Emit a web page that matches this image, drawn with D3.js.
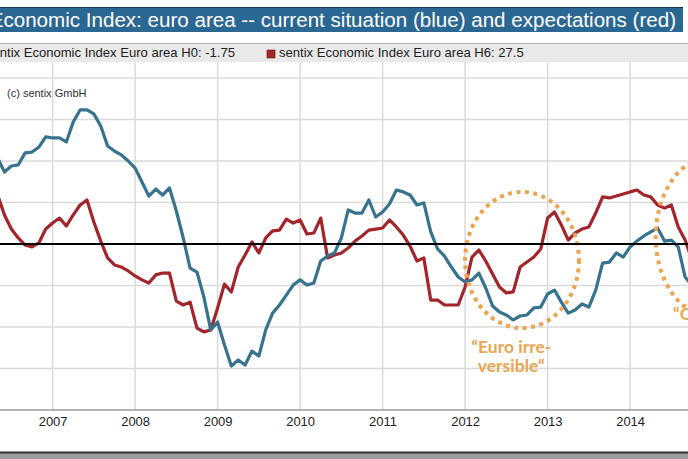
<!DOCTYPE html>
<html><head><meta charset="utf-8">
<script src="https://cdn.jsdelivr.net/npm/d3@7"></script>
<style>html,body{margin:0;padding:0;background:#fff;overflow:hidden}</style>
</head><body>
<script>
// ---- data (monthly, starting May 2006) ----
const startYear = 2006, startMonth = 5;
const currentSituation = [
  41.4,34.7,37.6,38.1,43.9,44.3,46.7,51.6,
  51.1,51.1,49.2,58.8,64.6,64.6,62.7,56.9,47.2,44.8,42.9,40.0,
  36.6,29.9,23.1,26.5,23.6,27.0,15.9,2.9,-11.6,-13.5,-25.5,-41.4,
  -37.6,-48.7,-58.8,-55.9,-58.3,-51.6,-54.0,-41.4,-33.3,-29.4,-24.6,-19.8,
  -17.3,-19.8,-18.8,-8.2,-5.8,-4.3,2.9,16.4,14.9,14.9,21.2,13.0,
  15.4,19.3,26.0,25.1,23.6,18.8,19.8,5.8,-2.4,-5.8,-11.1,-15.9,
  -18.3,-17.3,-14.0,-21.2,-29.9,-32.8,-34.2,-36.6,-34.7,-34.2,-30.8,-30.4,
  -24.1,-22.2,-28.0,-33.3,-31.8,-28.9,-30.4,-22.2,-9.2,-8.7,-4.3,-6.3,
  -1.4,1.4,3.9,5.8,7.7,1.4,1.9,-1.4,-15.9,-19.8
];
const expectations = [
  23.6,14.0,7.2,2.9,-0.5,-1.4,0.5,7.2,
  10.1,12.5,8.7,14.0,18.8,21.2,10.6,1.4,-6.7,-10.1,-11.1,-13.0,
  -15.4,-17.3,-18.8,-14.9,-14.0,-14.0,-27.5,-29.4,-28.0,-40.5,-42.4,-41.4,
  -30.8,-19.3,-23.1,-11.1,-5.3,1.0,-4.3,2.9,6.3,6.7,12.0,10.1,
  11.6,4.8,5.3,12.5,-6.7,-5.3,-4.3,-1.9,1.4,3.9,6.7,7.2,
  7.7,11.6,8.2,4.3,-1.0,-8.2,-6.7,-27.0,-27.0,-29.4,-29.4,-29.4,
  -20.7,-6.3,-2.9,-8.2,-14.5,-20.7,-23.6,-23.1,-11.1,-8.7,-6.3,-2.4,
  12.5,15.4,9.2,1.9,5.3,7.2,8.2,14.9,22.7,22.2,23.1,24.1,
  25.1,26.0,23.6,22.7,18.8,17.3,18.8,8.2,1.9,-7.7
];
const yearTicks = [2007,2008,2009,2010,2011,2012,2013,2014];
const gridValues = [-60,-40,-20,20,40,60,80];
const titleText = "Economic Index: euro area -- current situation (blue) and expectations (red)";
const legendLabels = ["sentix Economic Index Euro area H0: -1.75", "sentix Economic Index Euro area H6: 27.5"];
const copyrightText = "(c) sentix  GmbH";
const annotationEllipses = [
  {year: 2012.69, value: -7.7, rYears: 0.69, rValue: 32.8},
  {year: 2014.99, value: 3.5, rYears: 0.68, rValue: 38.5}
];
const annotationTexts = [
  {year: 2012.56, value: -52.5, lines: ["\u201CEuro irre-", "versible\u201C"], anchor: "middle"},
  {year: 2014.52, value: -36.6, lines: ["\u201C\u00D6"], anchor: "start"}
];

// ---- layout ----
const W = 688, H = 459;
const plotTop = 62, plotBottom = 410;
const x = d3.scaleLinear().domain([2007, 2014]).range([52.6, 630.1]);
const y = d3.scaleLinear().domain([-80, 80]).range([410, 78]);
const blue = "#37738f", red = "#a3252b", orange = "#eba551";

const svg = d3.select("body").append("svg").attr("width", W).attr("height", H)
  .style("font-family", "'Liberation Sans', Arial, sans-serif");

svg.append("defs").append("clipPath").attr("id", "plotclip")
  .append("rect").attr("x", 0).attr("y", plotTop).attr("width", W).attr("height", plotBottom - plotTop);

// title bar
svg.append("rect").attr("x", 0).attr("y", 7).attr("width", 683).attr("height", 25).attr("fill", "#2b6793");
svg.append("line").attr("x1", 0).attr("x2", 683).attr("y1", 7.5).attr("y2", 7.5).attr("stroke", "#163b58").attr("stroke-width", 1);
const title = svg.append("text").attr("x", 676).attr("y", 27).attr("text-anchor", "end")
  .attr("fill", "#fff").style("font-size", "19px").text(titleText);
{
  const n = title.node();
  const sub = n.getComputedTextLength() - n.getSubStringLength(0, 1);
  title.style("font-size", (19 * 673 / sub) + "px");
}

// legend bar
svg.append("rect").attr("x", 0).attr("y", 43).attr("width", W).attr("height", 19).attr("fill", "#e9e9e9");
svg.append("line").attr("x1", 0).attr("x2", W).attr("y1", 43.5).attr("y2", 43.5).attr("stroke", "#b5b5b5");
const leg2 = svg.append("text").attr("x", 279).attr("y", 57).attr("fill", "#222").style("font-size", "12px").text(legendLabels[1]);
let legSize = 12 * 245 / leg2.node().getComputedTextLength();
leg2.style("font-size", legSize + "px");
svg.append("text").attr("x", 235).attr("y", 57).attr("text-anchor", "end").attr("fill", "#222")
  .style("font-size", legSize + "px").text(legendLabels[0]);
svg.append("rect").attr("x", 267).attr("y", 50).attr("width", 8).attr("height", 8).attr("fill", red).attr("stroke", "#6a1014").attr("stroke-width", 0.6);

// grid
const grid = svg.append("g");
grid.selectAll("line.v").data(yearTicks).join("line")
  .attr("x1", d => x(d)).attr("x2", d => x(d)).attr("y1", plotTop).attr("y2", plotBottom)
  .attr("stroke", "#dadada").attr("stroke-width", 1.5);
grid.selectAll("line.h").data(gridValues).join("line")
  .attr("x1", 0).attr("x2", W).attr("y1", d => y(d)).attr("y2", d => y(d))
  .attr("stroke", "#dadada").attr("stroke-width", 1.5);

// x axis
const xAxis = svg.append("g").attr("transform", `translate(0,${plotBottom})`)
  .call(d3.axisBottom(x).tickValues(yearTicks).tickFormat(d3.format("d")).tickSize(0).tickPadding(7));
xAxis.select(".domain").remove();
xAxis.selectAll("text").attr("fill", "#222").style("font-size", "13px")
  .style("font-family", "'Liberation Sans Narrow', 'Arial Narrow', 'Liberation Sans', Arial, sans-serif");
svg.append("line").attr("x1", 0).attr("x2", W).attr("y1", plotBottom).attr("y2", plotBottom)
  .attr("stroke", "#9a9a9a").attr("stroke-width", 1.5);

// copyright
svg.append("text").attr("x", 7).attr("y", 97).attr("fill", "#333").style("font-size", "11px").text(copyrightText);

// lines
const toYear = i => startYear + (startMonth - 1 + i) / 12;
const lineGen = d3.line().x((d, i) => x(toYear(i))).y(d => y(d));
const plot = svg.append("g").attr("clip-path", "url(#plotclip)");
plot.append("path").datum(expectations).attr("d", lineGen).attr("fill", "none")
  .attr("stroke", red).attr("stroke-width", 3.2).attr("stroke-linejoin", "round");
plot.append("path").datum(currentSituation).attr("d", lineGen).attr("fill", "none")
  .attr("stroke", blue).attr("stroke-width", 3.2).attr("stroke-linejoin", "round");

// zero line
svg.append("line").attr("x1", 0).attr("x2", W).attr("y1", y(0)).attr("y2", y(0))
  .attr("stroke", "#000").attr("stroke-width", 2);

// annotations
plot.selectAll("ellipse").data(annotationEllipses).join("ellipse")
  .attr("cx", d => x(d.year)).attr("cy", d => y(d.value))
  .attr("rx", d => x(d.year + d.rYears) - x(d.year)).attr("ry", d => y(0) - y(d.rValue))
  .attr("fill", "none").attr("stroke", orange).attr("stroke-width", 4).attr("stroke-dasharray", "4 4.5");
annotationTexts.forEach(a => {
  const t = svg.append("text").attr("x", x(a.year)).attr("y", y(a.value)).attr("text-anchor", a.anchor)
    .attr("fill", orange).style("font-size", "17.5px").style("font-weight", "bold")
    .style("font-family", "Lato, 'Open Sans', sans-serif");
  a.lines.forEach((l, i) => t.append("tspan").attr("x", x(a.year)).attr("dy", i ? 19.5 : 0).text(l));
});

// bottom frame
svg.append("rect").attr("x", 0).attr("y", 452).attr("width", W).attr("height", 7).attr("fill", "#9c9c9c");
svg.append("line").attr("x1", 0).attr("x2", W).attr("y1", 452.5).attr("y2", 452.5).attr("stroke", "#333").attr("stroke-width", 2);
</script>
</body></html>
